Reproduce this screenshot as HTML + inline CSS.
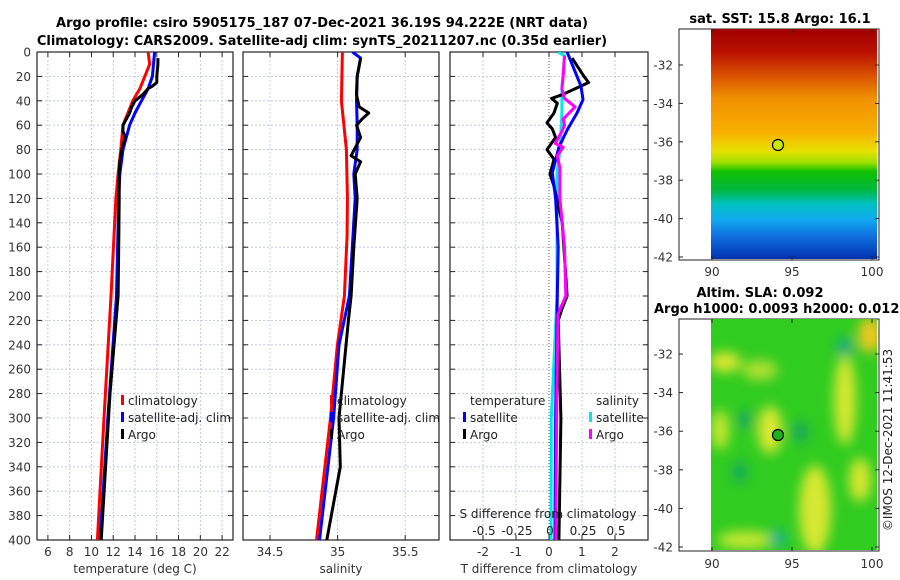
<!DOCTYPE html>
<html><head><meta charset="utf-8"><style>
body{margin:0;background:#fff;}
svg{display:block;font-family:"DejaVu Sans","Liberation Sans",sans-serif;}
</style></head><body>
<svg id="fig" width="900" height="580" viewBox="0 0 900 580" xmlns="http://www.w3.org/2000/svg">
<defs>
<linearGradient id="sstGrad" x1="0" y1="0" x2="0" y2="1">
<stop offset="0" stop-color="#a00000"/><stop offset="0.1" stop-color="#b81000"/>
<stop offset="0.2" stop-color="#d85000"/><stop offset="0.3" stop-color="#f09000"/>
<stop offset="0.45" stop-color="#f8b000"/><stop offset="0.53" stop-color="#e8e000"/>
<stop offset="0.58" stop-color="#a0e000"/><stop offset="0.62" stop-color="#10c000"/>
<stop offset="0.7" stop-color="#00b840"/><stop offset="0.76" stop-color="#00c0c0"/>
<stop offset="0.83" stop-color="#10a8f0"/><stop offset="0.9" stop-color="#1070e0"/>
<stop offset="1" stop-color="#0030b0"/></linearGradient>
<filter id="blur"><feGaussianBlur stdDeviation="6"/></filter>
<clipPath id="slaClip"><rect x="711" y="319" width="166" height="231"/></clipPath>
<clipPath id="p1c"><rect x="37" y="52" width="196" height="488"/></clipPath>
<clipPath id="p2c"><rect x="243" y="52" width="196" height="488"/></clipPath>
<clipPath id="p3c"><rect x="450" y="52" width="198" height="488"/></clipPath>
</defs>
<text x="322" y="27" text-anchor="middle" font-size="13" font-weight="bold">Argo profile: csiro 5905175_187 07-Dec-2021 36.19S 94.222E (NRT data)</text>
<text x="322" y="45" text-anchor="middle" font-size="13" font-weight="bold">Climatology: CARS2009. Satellite-adj clim: synTS_20211207.nc (0.35d earlier)</text>
<g id="panels"></g>

<g>
<rect x="679" y="29" width="200" height="231" fill="#fff" stroke="#222"/>
<rect x="711" y="29" width="166" height="230" fill="url(#sstGrad)"/>
<circle cx="778" cy="145" r="5.5" fill="#c8e800" stroke="#000" stroke-width="1.2"/>
<text x="780" y="23" text-anchor="middle" font-size="13" font-weight="bold">sat. SST: 15.8 Argo: 16.1</text>
</g>
<g>
<rect x="679" y="319" width="200" height="232" fill="#fff" stroke="#222"/>
<g clip-path="url(#slaClip)">
<rect x="711" y="319" width="166" height="231" fill="#30cc20"/>
<g filter="url(#blur)">
<ellipse cx="725" cy="362" rx="16" ry="10" fill="#e0e830"/>
<ellipse cx="770" cy="430" rx="12" ry="24" fill="#e0e830"/>
<ellipse cx="845" cy="400" rx="11" ry="45" fill="#d8e830"/>
<ellipse cx="815" cy="510" rx="16" ry="45" fill="#d8e830"/>
<ellipse cx="870" cy="335" rx="12" ry="18" fill="#f0c820"/>
<ellipse cx="860" cy="480" rx="11" ry="22" fill="#d8e830"/>
<ellipse cx="720" cy="430" rx="9" ry="20" fill="#c8e830"/>
<ellipse cx="745" cy="540" rx="28" ry="9" fill="#c8e830"/>
<ellipse cx="760" cy="370" rx="18" ry="10" fill="#b0e030"/>
<ellipse cx="845" cy="347" rx="8" ry="9" fill="#10a890"/>
<ellipse cx="778" cy="538" rx="8" ry="8" fill="#10b0a0"/>
<ellipse cx="800" cy="432" rx="9" ry="10" fill="#18a860"/>
<ellipse cx="745" cy="420" rx="8" ry="9" fill="#18a860"/>
<ellipse cx="740" cy="472" rx="8" ry="10" fill="#18a860"/>
</g></g>
<circle cx="778" cy="435" r="5.5" fill="#20b020" stroke="#000" stroke-width="1.2"/>
<text x="760" y="297" text-anchor="middle" font-size="13" font-weight="bold">Altim. SLA: 0.092</text>
<text x="654" y="313" font-size="13" font-weight="bold">Argo h1000: 0.0093 h2000: 0.012</text>
<text transform="translate(892,440) rotate(-90)" text-anchor="middle" font-size="12" fill="#222">©IMOS 12-Dec-2021 11:41:53</text>
</g>
<g id="maps"></g>
</svg>
<script>
const NS="http://www.w3.org/2000/svg";
const depthTicks=[0,20,40,60,80,100,120,140,160,180,200,220,240,260,280,300,320,340,360,380,400];
const tempTicks=[6,8,10,12,14,16,18,20,22];
const salTicks=[34.5,35,35.5];
const tdiffTicks=[-2,-1,0,1,2];
const sdiffTicks=[-0.5,-0.25,0,0.25,0.5];
const sdiffTickLabels=["-0.5","-0.25","0","0.25","0.5"];
const climDepth=[0,10,20,30,40,50,60,80,100,120,200,300,400];
const climTemp=[15.2,15.35,14.9,14.45,13.8,13.35,12.9,12.7,12.45,12.25,11.8,11.15,10.55];
const satDepth=[0,10,20,30,40,50,60,70,80,100,120,200,300,400];
const satTemp=[15.8,15.7,15.6,15.2,14.6,14.0,13.5,13.2,12.9,12.6,12.5,12.3,11.5,10.8];
const argoDepth=[5,10,20,25,28,30,35,40,45,50,55,60,65,70,80,90,100,120,160,200,280,340,400];
const argoTemp=[16.1,16.1,16.0,16.0,15.6,15.2,14.7,14.0,13.7,13.5,13.2,12.9,12.9,13.1,12.8,12.6,12.55,12.55,12.5,12.45,11.7,11.3,10.9];
const climSalDepth=[0,40,80,120,150,200,240,300,400];
const climSal=[35.035,35.028,35.065,35.072,35.07,35.05,34.998,34.947,34.844];
const satSalDepth=[0,5,20,40,60,80,100,120,200,240,300,400];
const satSal=[35.11,35.17,35.145,35.14,35.145,35.145,35.12,35.13,35.087,35.01,34.97,34.866];
const argoSalDepth=[5,20,35,45,50,55,60,70,85,90,100,120,160,200,220,300,340,400];
const argoSal=[35.17,35.145,35.14,35.16,35.23,35.18,35.14,35.17,35.1,35.17,35.13,35.145,35.12,35.1,35.08,35.01,35.02,34.92];
const tSatDiffDepth=[0,28,39,50,64,78,99,120,160,200,300,400];
const tSatDiff=[0.55,0.97,1.03,0.85,0.55,0.3,0.1,0.2,0.28,0.25,0.2,0.18];
const tArgoDiffDepth=[5,20,25,30,35,38,42,50,58,63,70,80,88,100,110,140,180,200,210,220,300,400];
const tArgoDiff=[0.7,1.06,1.2,0.8,0.4,0.08,0.25,0.15,-0.06,0.1,0.2,-0.06,0.15,0.03,0.15,0.4,0.5,0.55,0.4,0.28,0.36,0.3];
const sSatDiffDepth=[0,3,30,50,80,100,200,300,400];
const sSatDiff=[0.06,0.11,0.09,0.09,0.076,0.053,0.053,0.01,0.008];
const sArgoDiffDepth=[3,20,30,38,45,55,60,65,75,78,85,95,120,160,200,215,300,400];
const sArgoDiff=[0.11,0.1,0.09,0.11,0.19,0.1,0.11,0.09,0.04,0.1,0.055,0.075,0.075,0.11,0.12,0.06,0.05,0.045];
const mapLatTicks=[-32,-34,-36,-38,-40,-42];
const mapLonTicks=[90,95,100];

const P=document.getElementById('panels');
function el(tag,attrs,parent){const e=document.createElementNS(NS,tag);for(const k in attrs)e.setAttribute(k,attrs[k]);(parent||P).appendChild(e);return e;}
const Y0=52,Y1=540;
const yScale=d=>Y0+d/400*(Y1-Y0);
const panels=[
 {x0:37,x1:233,min:5,max:23,ticks:tempTicks,labels:tempTicks.map(String),label:"temperature (deg C)",name:"temperature"},
 {x0:243,x1:439,min:34.3,max:35.75,ticks:salTicks,labels:["34.5","35","35.5"],label:"salinity",name:"salinity"},
 {x0:450,x1:648,min:-3,max:3,ticks:tdiffTicks,labels:tdiffTicks.map(String),label:"T difference from climatology",name:"difference"}
];
panels.forEach((p,i)=>{
 p.sx=v=>p.x0+(v-p.min)/(p.max-p.min)*(p.x1-p.x0);
 const g=el('g',{});
 
 
 depthTicks.forEach(d=>{
  const y=yScale(d);
  if(d>0&&d<400){const l=el('line',{x1:p.x0,x2:p.x1,y1:y,y2:y,stroke:'#b8bedc','stroke-width':0.8,'stroke-dasharray':'2,2'},g);
   }
  el('line',{x1:p.x0,x2:p.x0+5,y1:y,y2:y,stroke:'#222'},g);
  el('line',{x1:p.x1-5,x2:p.x1,y1:y,y2:y,stroke:'#222'},g);
  if(i===0){const t=el('text',{x:31,y:y+4.5,'text-anchor':'end','font-size':12,fill:'#333'},g);t.textContent=d;
   }
 });
 p.ticks.forEach((v,j)=>{
  const x=p.sx(v);
  const l=el('line',{x1:x,x2:x,y1:Y0,y2:Y1,stroke:(i===2&&v===0)?'#555':'#b8bedc','stroke-width':(i===2&&v===0)?1:0.8,'stroke-dasharray':(i===2&&v===0)?'1,2':'2,2'},g);
  
  el('line',{x1:x,x2:x,y1:Y1-5,y2:Y1,stroke:'#222'},g);
  el('line',{x1:x,x2:x,y1:Y0,y2:Y0+5,stroke:'#222'},g);
  const t=el('text',{x:x,y:556,'text-anchor':'middle','font-size':12,fill:'#333'},g);t.textContent=p.labels[j];
  
 });
 el('rect',{x:p.x0,y:Y0,width:p.x1-p.x0,height:Y1-Y0,fill:'none',stroke:'#222','stroke-width':1.2},g);
 const xl=el('text',{x:(p.x0+p.x1)/2,y:573,'text-anchor':'middle','font-size':12,fill:'#333'},g);xl.textContent=p.label;
 
});
function line(pi,depths,vals,color,name,sx){
 const p=panels[pi];const f=sx||p.sx;
 const pts=depths.map((d,k)=>f(vals[k]).toFixed(1)+','+yScale(d).toFixed(1)).join(' ');
 const l=el('polyline',{points:pts,fill:'none',stroke:color,'stroke-width':3,'stroke-linejoin':'round','clip-path':'url(#p'+(pi+1)+'c)'});
 
 
}
const sdx=v=>550+v*132;
line(0,climDepth,climTemp,'#ff0000','temp-climatology-line');
line(0,satDepth,satTemp,'#0000ff','temp-satellite-line');
line(0,argoDepth,argoTemp,'#000','temp-argo-line');
line(1,climSalDepth,climSal,'#ff0000','sal-climatology-line');
line(1,satSalDepth,satSal,'#0000ff','sal-satellite-line');
line(1,argoSalDepth,argoSal,'#000','sal-argo-line');
line(2,sSatDiffDepth,sSatDiff,'#00e8e8','sdiff-satellite-line',sdx);
line(2,tArgoDiffDepth,tArgoDiff,'#000','tdiff-argo-line');
line(2,tSatDiffDepth,tSatDiff,'#0000ff','tdiff-satellite-line');
line(2,sArgoDiffDepth,sArgoDiff,'#ff00ff','sdiff-argo-line',sdx);
const st=el('text',{x:548,y:518,'text-anchor':'middle','font-size':12,fill:'#222'});st.textContent='S difference from climatology';

sdiffTicks.forEach((v,j)=>{const t=el('text',{x:sdx(v),y:535,'text-anchor':'middle','font-size':12,fill:'#222'});t.textContent=sdiffTickLabels[j];
 });
function legend(x,y,color,text,name){
 const g=el('g',{});
 
 
 el('rect',{x:x,y:y-10,width:3,height:10,fill:color},g);
 const t=el('text',{x:x+7,y:y,'font-size':12,fill:'#222'},g);t.textContent=text;
}
legend(121,405,'#ff0000','climatology','legend-temp-climatology');
legend(121,422,'#0000ff','satellite-adj. clim','legend-temp-satellite');
legend(121,439,'#000','Argo','legend-temp-argo');
legend(330,405,'#ff0000','climatology','legend-sal-climatology');
legend(330,422,'#0000ff','satellite-adj. clim','legend-sal-satellite');
legend(330,439,'#000','Argo','legend-sal-argo');
const lt=el('text',{x:470,y:405,'font-size':12,fill:'#222'});lt.textContent='temperature';
const ls=el('text',{x:596,y:405,'font-size':12,fill:'#222'});ls.textContent='salinity';
legend(463,422,'#0000ff','satellite','legend-tdiff-satellite');
legend(463,439,'#000','Argo','legend-tdiff-argo');
legend(589,422,'#00e8e8','satellite','legend-sdiff-satellite');
legend(589,439,'#ff00ff','Argo','legend-sdiff-argo');
const M=document.getElementById('maps');
[{y0:29,y1:260,latY:v=>65+(-32-v)/10*192,lonY:276,name:'sst'},{y0:319,y1:551,latY:v=>354+(-32-v)/10*193,lonY:568,name:'sla'}].forEach(m=>{
 mapLatTicks.forEach(v=>{const y=m.latY(v);
  el('line',{x1:679,x2:683,y1:y,y2:y,stroke:'#222'},M);el('line',{x1:875,x2:879,y1:y,y2:y,stroke:'#222'},M);
  const t=el('text',{x:673,y:y+4.5,'text-anchor':'end','font-size':12,fill:'#333'},M);t.textContent=v;
  });
 mapLonTicks.forEach(v=>{const x=712+(v-90)*16;
  el('line',{x1:x,x2:x,y1:m.y1-4,y2:m.y1,stroke:'#222'},M);el('line',{x1:x,x2:x,y1:m.y0,y2:m.y0+4,stroke:'#222'},M);
  const t=el('text',{x:x,y:m.lonY,'text-anchor':'middle','font-size':12,fill:'#333'},M);t.textContent=v;
  });
});
</script>
</body></html>
